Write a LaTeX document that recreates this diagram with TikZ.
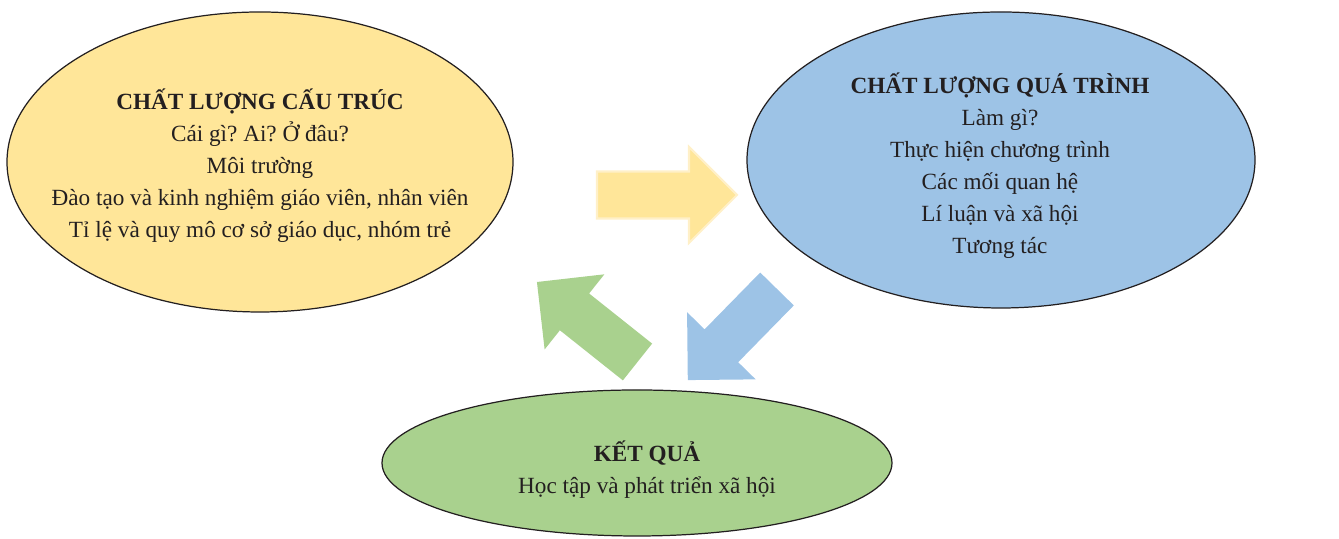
\documentclass[tikz,border=0pt]{standalone}
\usepackage{fontspec}
\setmainfont{Liberation Serif}
\usetikzlibrary{shapes.geometric}
\frenchspacing

\definecolor{cauYellow}{HTML}{FFE699}
\definecolor{quaBlue}{HTML}{9DC3E6}
\definecolor{ketGreen}{HTML}{A9D18E}
\definecolor{inkDark}{HTML}{231F20}
\definecolor{edgeYellow}{HTML}{FFF0C8}

\tikzset{
  oval/.style={ellipse, draw=inkDark, line width=0.7pt, inner sep=0pt},
  ovaltext/.style={align=center, text=inkDark, inner sep=0pt,
    font=\fontsize{13.2}{18.2}\selectfont},
  pics/blockarrow/.style={code={
    \fill[pic actions] (0,-0.47) -- ({#1-0.96},-0.47) -- ({#1-0.96},-0.96)
      -- (#1,0) -- ({#1-0.96},0.96) -- ({#1-0.96},0.47) -- (0,0.47) -- cycle;
  }}
}

\begin{document}
\begin{tikzpicture}
  \useasboundingbox (0,0) rectangle (26.78,10.78);

  % the three ovals
  \node[oval, fill=cauYellow, minimum width=10.12cm, minimum height=6cm]
    (cautruc) at (5.2,7.54) {};
  \node[oval, fill=quaBlue, minimum width=10.16cm, minimum height=5.92cm]
    (quatrinh) at (20.02,7.58) {};
  \node[oval, fill=ketGreen, minimum width=10.2cm, minimum height=2.92cm]
    (ketqua) at (12.74,1.52) {};

  \node[ovaltext] (cautrucText) at (5.2,7.46)
    {\textbf{CHẤT LƯỢNG CẤU TRÚC}\\ Cái gì? Ai? Ở đâu?\\ Môi trường\\
     Đào tạo và kinh nghiệm giáo viên, nhân viên\\
     Tỉ lệ và quy mô cơ sở giáo dục, nhóm trẻ};
  \node[ovaltext] (quatrinhText) at (20.0,7.46)
    {\textbf{CHẤT LƯỢNG QUÁ TRÌNH}\\ Làm gì?\\ Thực hiện chương trình\\
     Các mối quan hệ\\ Lí luận và xã hội\\ Tương tác};
  \node[ovaltext] (ketquaText) at (12.94,1.38)
    {\textbf{KẾT QUẢ}\\ Học tập và phát triển xã hội};

  % block arrows round the cycle
  \pic[fill=cauYellow, draw=edgeYellow, line width=1.2pt] at (11.94,6.88) {blockarrow=2.8};
  \pic[fill=quaBlue, rotate=225.6] at (15.54,5.0) {blockarrow=2.55};
  \pic[fill=ketGreen, rotate=141.5] at (12.75,3.54) {blockarrow=2.57};
\end{tikzpicture}
\end{document}
